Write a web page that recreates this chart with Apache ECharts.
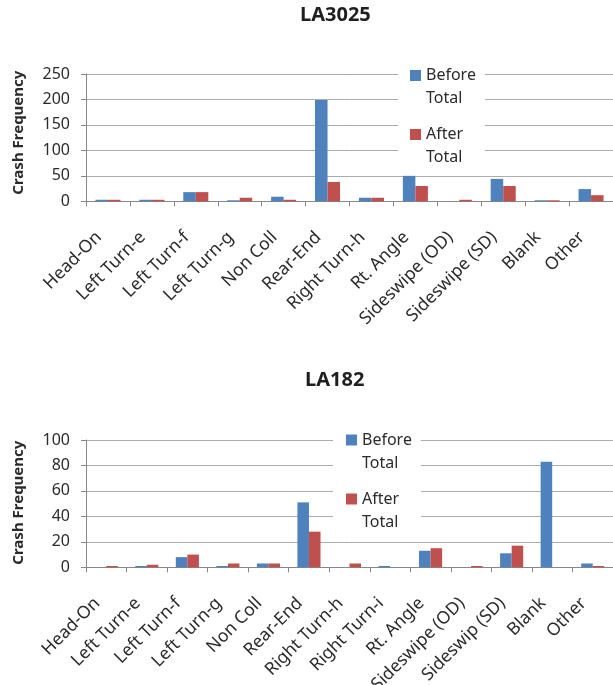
<!DOCTYPE html>
<html>
<head>
<meta charset="utf-8">
<script src="https://cdn.jsdelivr.net/npm/echarts@6/dist/echarts.min.js"></script>
<style>
html,body{margin:0;padding:0;background:#fff;}
#chart{width:613px;height:685px;}
</style>
</head>
<body>
<div id="chart"></div>
<script>
// ---- Data ----
var titleTop = 'LA3025';
var titleBottom = 'LA182';
var seriesNames = ['Before Total', 'After Total'];

var categoriesTop = ['Head-On', 'Left Turn-e', 'Left Turn-f', 'Left Turn-g', 'Non Coll', 'Rear-End', 'Right Turn-h', 'Rt. Angle', 'Sideswipe (OD)', 'Sideswipe (SD)', 'Blank', 'Other'];
var beforeTop = [3, 3, 18, 2, 9, 199, 7, 50, 0, 44, 2, 24];
var afterTop  = [3, 3, 18, 7, 3, 38, 7, 30, 3, 30, 2, 12];
var yTicksTop = [0, 50, 100, 150, 200, 250];

var categoriesBottom = ['Head-On', 'Left Turn-e', 'Left Turn-f', 'Left Turn-g', 'Non Coll', 'Rear-End', 'Right Turn-h', 'Right Turn-i', 'Rt. Angle', 'Sideswipe (OD)', 'Sideswip (SD)', 'Blank', 'Other'];
var beforeBottom = [0, 1, 8, 1, 3, 51, 0, 1, 13, 0, 11, 83, 3];
var afterBottom  = [1, 2, 10, 3, 3, 28, 3, 0, 15, 1, 17, 0, 1];
var yTicksBottom = [0, 20, 40, 60, 80, 100];

// ---- Styles ----
var FONT = 'Noto Sans';
var TXT = '#2b2b2b';
var GRIDC = '#acacac';
var AXC = '#888888';
var BLUE = '#4f81bd';
var RED = '#c0504d';

function xAxis(idx, cats) {
  return {
    type: 'category', gridIndex: idx, data: cats,
    axisLine: {show: true, lineStyle: {color: AXC, width: 1}},
    axisTick: {show: true, interval: 0, length: 5, lineStyle: {color: AXC}},
    axisLabel: {interval: 0, rotate: 45, fontSize: 17.5, fontFamily: FONT, color: TXT, margin: 24, padding: [0, 13, 0, 0]},
    splitLine: {show: false}
  };
}
function yAxis(idx, ticks, namePad) {
  return {
    type: 'value', gridIndex: idx,
    min: ticks[0], max: ticks[ticks.length - 1], interval: ticks[1] - ticks[0],
    name: 'Crash Frequency', nameLocation: 'middle', nameGap: 60, nameRotate: 90,
    nameTextStyle: {fontSize: 15, fontWeight: 'bold', fontFamily: FONT, color: TXT, padding: namePad},
    axisLine: {show: true, lineStyle: {color: AXC, width: 1}},
    axisTick: {show: true, length: 5, lineStyle: {color: AXC}},
    axisLabel: {fontSize: 16, fontFamily: FONT, color: TXT, margin: 16},
    splitLine: {show: true, lineStyle: {color: GRIDC, width: 1}}
  };
}
function legend(top, left, pl) {
  return {
    orient: 'vertical', top: top, left: left,
    data: seriesNames,
    icon: 'rect', itemWidth: 11, itemHeight: 11, itemGap: -10,
    backgroundColor: '#ffffff',
    padding: [0, 9, 3, pl],
    selectedMode: false,
    // leading blank line keeps the first word level with the colour square
    formatter: function (n) { return '\n' + n.replace(' ', '\n'); },
    textStyle: {fontSize: 16, fontFamily: FONT, color: TXT, lineHeight: 23},
    z: 10
  };
}
function bar(name, data, idx, color) {
  return {
    type: 'bar', name: name, data: data, xAxisIndex: idx, yAxisIndex: idx,
    barGap: '0%', barCategoryGap: '43%',
    itemStyle: {color: color}
  };
}

var chart = echarts.init(document.getElementById('chart'), null, {renderer: 'canvas'});
chart.setOption({
  animation: false,
  backgroundColor: '#ffffff',
  title: [
    {text: titleTop, left: 300, top: 5, padding: 0, textStyle: {fontSize: 20, fontWeight: 'bold', fontFamily: FONT, color: '#1f1f1f'}},
    {text: titleBottom, left: 305, top: 370, padding: 0, textStyle: {fontSize: 20, fontWeight: 'bold', fontFamily: FONT, color: '#1f1f1f'}}
  ],
  legend: [legend(41, 398, 12), legend(405.5, 333, 13)],
  grid: [
    {left: 86, top: 74, width: 527, height: 127.3, containLabel: false, outerBoundsMode: 'none'},
    {left: 86, top: 440, width: 527, height: 127.3, containLabel: false, outerBoundsMode: 'none'}
  ],
  xAxis: [xAxis(0, categoriesTop), xAxis(1, categoriesBottom)],
  yAxis: [yAxis(0, yTicksTop, [0, 0, 0, 10]), yAxis(1, yTicksBottom, [0, 0, 0, 2])],
  series: [
    bar(seriesNames[0], beforeTop, 0, BLUE),
    bar(seriesNames[1], afterTop, 0, RED),
    bar(seriesNames[0], beforeBottom, 1, BLUE),
    bar(seriesNames[1], afterBottom, 1, RED)
  ]
});
</script>
</body>
</html>
